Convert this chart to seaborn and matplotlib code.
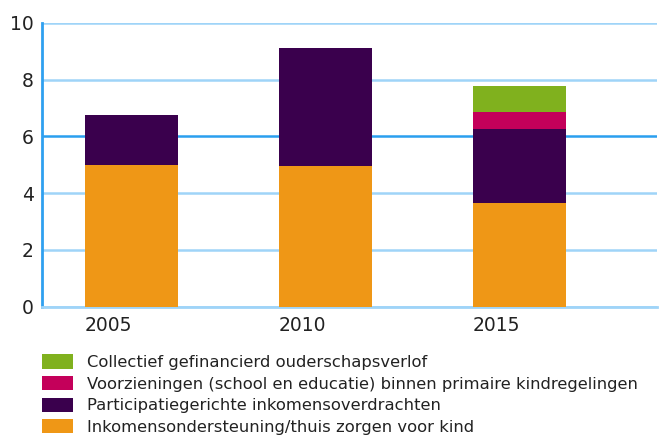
import matplotlib
matplotlib.use("Agg")
import matplotlib.pyplot as plt
import numpy as np
import pandas as pd
import seaborn as sns
from matplotlib.patches import Patch

# Data
years = ["2005", "2010", "2015"]
inkomen = [5.0, 4.95, 3.65]          # Inkomensondersteuning/thuis zorgen voor kind
participatie = [1.75, 4.17, 2.6]     # Participatiegerichte inkomensoverdrachten
voorzieningen = [0.0, 0.0, 0.6]      # Voorzieningen (school en educatie)
ouderschap = [0.0, 0.0, 0.93]        # Collectief gefinancierd ouderschapsverlof

labels = [
    "Collectief gefinancierd ouderschapsverlof",
    "Voorzieningen (school en educatie) binnen primaire kindregelingen",
    "Participatiegerichte inkomensoverdrachten",
    "Inkomensondersteuning/thuis zorgen voor kind",
]
colors = ["#80B11E", "#C4005A", "#3A004D", "#EF9716"]

sns.set_theme(style="white")
plt.rcParams["font.family"] = ["DejaVu Sans"]

# cumulative heights, drawn from the top layer down
layers = [inkomen, participatie, voorzieningen, ouderschap]
cum = np.cumsum(np.array(layers), axis=0)
df = pd.DataFrame({"jaar": years})
for i in range(len(layers)):
    df[f"cum{i}"] = cum[i]

fig = plt.figure(figsize=(6.59, 4.37), dpi=100)
ax = fig.add_axes([0.064, 0.298, 0.933, 0.650])

bar_w = 0.48
for i, col in zip([3, 2, 1, 0], colors):
    sns.barplot(data=df, x="jaar", y=f"cum{i}", color=col, width=bar_w,
                saturation=1, ax=ax, linewidth=0, zorder=3)

ax.set_xlim(-0.46, 2.71)
ax.set_ylim(0, 10)
ax.set_yticks(range(0, 11, 2))
ax.set_xlabel("")
ax.set_ylabel("")

ax.set_xticks([i - bar_w / 2 for i in range(len(years))])
ax.set_xticklabels(years, ha="left")
ax.tick_params(axis="x", length=0, pad=7, labelsize=13.5, labelcolor="#222222")
ax.tick_params(axis="y", length=0, pad=6, labelsize=13.5, labelcolor="#222222")

ax.set_axisbelow(True)
ax.yaxis.grid(True, color="#9FD4F8", linewidth=1.8)
ax.get_ygridlines()[3].set_color("#2A9FEF")
for s in ["top", "right"]:
    ax.spines[s].set_visible(False)
ax.spines["bottom"].set_color("#9FD4F8")
ax.spines["bottom"].set_linewidth(2)
ax.spines["left"].set_color("#2FA0F0")
ax.spines["left"].set_linewidth(2)

handles = [Patch(facecolor=c, edgecolor="none") for c in colors]
fig.legend(handles, labels, loc="upper left", bbox_to_anchor=(0.0637, 0.189),
           frameon=False, fontsize=11.8, handlelength=1.9, handleheight=0.95,
           handletextpad=0.85, labelspacing=0.36, borderaxespad=0,
           borderpad=0, labelcolor="#222222")

fig.savefig("out.png", dpi=100)
